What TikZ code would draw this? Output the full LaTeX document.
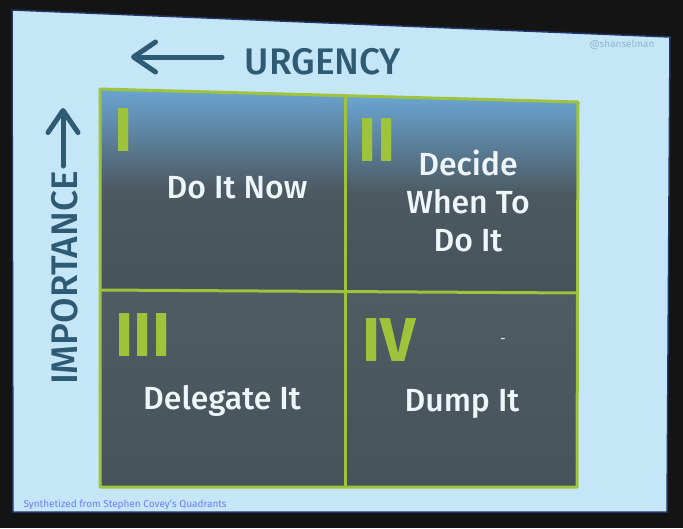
\documentclass[tikz,border=0pt]{standalone}
\usepackage{fontspec}
\setmainfont{Fira Sans}
\newfontfamily\medfont{Fira Sans Medium}
\usepackage{xcolor}
\usetikzlibrary{arrows.meta}

\definecolor{photobg}{HTML}{141414}
\definecolor{slidebg}{HTML}{C5E6F7}
\definecolor{slideedge}{HTML}{233466}
\definecolor{quadgreen}{HTML}{9DC43B}
\definecolor{axisblue}{HTML}{2E5A73}
\definecolor{qtop}{HTML}{6AA5D2}
\definecolor{qmid}{HTML}{4C5961}
\definecolor{qbot}{HTML}{46535A}
\definecolor{qlow}{HTML}{4F5C64}
\definecolor{quadtext}{HTML}{EEF6FA}

\begin{document}
\begin{tikzpicture}[
    x=1pt, y=-1pt,
    quad/.style={text=quadtext, font=\medfont\fontsize{32}{38}\selectfont, align=center},
    numeral/.style={text=quadgreen, font=\fontsize{62}{62}\selectfont\bfseries},
    axis/.style={text=axisblue, font=\medfont\fontsize{37}{37}\selectfont},
    axisarrow/.style={
        draw=axisblue,
        line width=5pt,
        line cap=round,
        -{Straight Barb[round, length=22pt, width=30pt]}
    },
    gridline/.style={draw=quadgreen, line width=3pt, line join=round},
    small/.style={font=\fontsize{10}{10}\selectfont}
]

\fill[photobg] (0,0) rectangle (683,528);
\fill[slidebg, draw=slideedge, line width=1.5pt]
    (12,10) -- (670,37) -- (667,512) -- (13,512) -- cycle;

\coordinate (tl) at (100,89);
\coordinate (tm) at (345,96);
\coordinate (tr) at (578,102);
\coordinate (ml) at (100,290);
\coordinate (mm) at (345,291.5);
\coordinate (mr) at (578,293);
\coordinate (bl) at (100,487);
\coordinate (bm) at (345,487);
\coordinate (br) at (577,487);

\shade[top color=qtop, bottom color=qbot, middle color=qmid] (tl) -- (tm) -- (mm) -- (ml) -- cycle;
\shade[top color=qtop, bottom color=qbot, middle color=qmid] (tm) -- (tr) -- (mr) -- (mm) -- cycle;
\shade[top color=qlow, bottom color=qbot] (ml) -- (mm) -- (bm) -- (bl) -- cycle;
\shade[top color=qlow, bottom color=qbot] (mm) -- (mr) -- (br) -- (bm) -- cycle;

\draw[gridline] (tl) -- (tr) -- (br) -- (bl) -- cycle;
\draw[gridline] (ml) -- (mr);
\draw[gridline] (tm) -- (bm);

\node[numeral] (one) at (124,130) {I};
\node[numeral] (two) at (377,140) {II};
\node[numeral] (three) at (143,335) {III};
\node[numeral] (four) at (389,340) {IV};

\node[quad] (donow) at (237,188) {Do It Now};
\node[quad] (decide) at (468,201) {Decide\\When To\\Do It};
\node[quad] (delegate) at (222,401) {Delegate It};
\node[quad] (dump) at (462,404) {Dump It};
\node[text=quadtext, font=\fontsize{14}{14}\selectfont] (stray) at (503,341) {-};

\node[axis] (urgency) at (323,62) {URGENCY};
\node[axis, rotate=90] (importance) at (64.5,278) {IMPORTANCE};

\coordinate (urgtail) at (222,57);
\coordinate (urghead) at (131,57);
\coordinate (imptail) at (63,166);
\coordinate (imphead) at (63,108);
\draw[axisarrow] (urgtail) -- (urghead);
\draw[axisarrow] (imptail) -- (imphead);

\node[small, text=axisblue!35!slidebg, anchor=east] (handle) at (658,45) {@shanselman};
\node[small, text=blue!45!slidebg, anchor=west] (credit) at (20,505) {Synthetized from Stephen Covey's Quadrants};

\end{tikzpicture}
\end{document}
